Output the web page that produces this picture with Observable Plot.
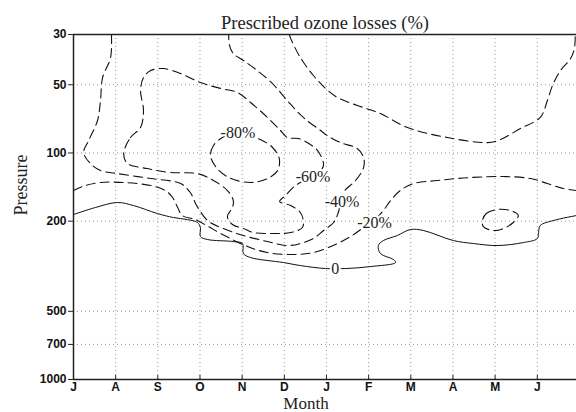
<!DOCTYPE html>
<html>
<head>
<meta charset="utf-8">
<script src="https://cdn.jsdelivr.net/npm/d3@7"></script>
<script src="https://cdn.jsdelivr.net/npm/@observablehq/plot@0.6"></script>
<style>
  html, body { margin: 0; padding: 0; background: white; }
</style>
</head>
<body>
<div id="chart"></div>
<script>
// Month axis (July .. June) and pressure ticks
const monthLabels = ["J","A","S","O","N","D","J","F","M","A","M","J"];
const monthTicks = [0,1,2,3,4,5,6,7,8,9,10,11];
const pressureTicks = [30,50,100,200,500,700,1000];
const pressureGrid = [50,100,200,500,700];

// Contour lines: [month index, pressure hPa]
const c80 = [[3.53,85.5],[3.32,92.7],[3.25,102.6],[3.37,114.8],[3.68,128.4],[4.20,135],[4.60,129.7],[4.84,119.6],[4.88,105.8],[4.72,94.6],[4.43,87.2],[4.08,82.9],[3.77,82.9]];

const c60 = [[1.19,100.6],[1.35,85.5],[1.59,77.2],[1.66,65.0],[1.59,53.0],[1.66,46.5],[1.83,43.3],[2.13,42.4],[2.54,44.6],[3.01,48.9],[3.49,51.9],[3.89,54.1],[4.20,59.9],[4.60,69.7],[4.91,79.6],[5.07,85.5],[5.34,86.4],[5.62,91.8],[5.79,97.6],[5.93,111.3],[5.90,117.2],[5.62,128.4],[5.26,139.3],[5.03,154.1],[4.89,163.8],[5.15,170.6],[5.38,183.2],[5.45,198.8],[5.43,213.4],[5.15,224.6],[4.74,226.8],[4.27,224.6],[4.03,215.6],[3.77,207],[3.65,190.8],[3.77,174.1],[3.79,162.2],[3.65,146.5],[3.32,132.3],[2.94,123.3],[2.30,122],[1.75,117.2],[1.28,111.3]];

const c40 = [[0.90,30],[0.88,37.9],[0.69,46.5],[0.64,58.7],[0.57,71.9],[0.36,88.1],[0.24,99.6],[0.40,111.3],[0.64,119.6],[1.04,123.3],[1.83,129.7],[2.54,136.5],[2.77,149.5],[2.92,170.6],[3.18,198.8],[3.49,213.4],[4.03,231.5],[4.60,246.1],[5.07,256.3],[5.38,251.1],[5.69,238.7],[5.93,220],[6.17,202.8],[6.28,183.2],[6.40,149.5],[6.69,132.3],[6.88,116],[6.88,104.7],[6.73,95.6],[6.33,90.0],[6.02,83.8],[5.86,79.6],[5.45,69.7],[5.07,58.7],[4.72,49.4],[4.36,43.3],[4.03,39.1],[3.79,36.4],[3.70,33.5],[3.68,30]];

const c20low = [[0,146.5],[0.28,139.3],[0.64,135],[1.19,135],[1.83,139.3],[2.18,146.5],[2.35,157.3],[2.47,174.1],[2.58,188.9],[2.89,196.8],[3.20,211.3],[3.49,226.8],[4.13,258.9],[4.60,275.2],[5.15,280.8],[5.69,275.2],[6.26,251.1],[6.57,233.9],[6.81,217.8],[7.16,196],[7.35,179.5],[7.52,162.2],[7.75,146.5],[8.06,136.5],[8.63,132.3],[9.41,128.4],[10.20,127.1],[10.84,129.7],[11.24,136.5],[11.62,143.6],[11.93,146.5]];

const c20top = [[5.12,30],[5.15,31.2],[5.38,37.9],[5.69,45.5],[5.98,51.9],[6.26,56.9],[6.73,61.7],[7.28,67.0],[7.92,77.2],[8.87,85.5],[9.82,90.0],[10.13,87.2],[10.60,78.0],[11.07,69.7],[11.24,58.7],[11.36,50.4],[11.55,43.3],[11.79,38.3],[11.88,34.6],[11.90,30]];

const c20may = [[9.70,198.8],[9.79,185.1],[10.05,177.7],[10.36,179.5],[10.55,188.9],[10.43,202.8],[10.20,215.6],[9.96,220],[9.72,211.3]];

const c0 = [[0,187],[0.52,174.1],[1.04,165.5],[1.42,170.6],[1.99,185.1],[2.37,192.8],[2.70,196.8],[2.94,202.8],[3.01,213.4],[3.01,233.9],[3.18,241.1],[3.79,246.1],[4.01,251.1],[4.03,278],[4.20,289.5],[4.98,304.6],[5.38,314.1],[5.98,323.8],[6.45,323.8],[7.04,317.4],[7.64,304.6],[7.59,295.5],[7.28,278],[7.23,256.3],[7.35,243.6],[7.68,231.5],[7.99,217.8],[8.30,220],[9.01,243.6],[9.49,251.1],[10.05,256.3],[10.67,248.6],[11.00,238.7],[11.03,224.6],[11.07,209.1],[11.38,198.8],[11.93,188.9]];

const labelTexts = ["-80%","-60%","-40%","-20%","0"];
const labelMonths = [3.90, 5.68, 6.37, 7.14, 6.21];
const labelPressures = [81.2, 127.1, 163.8, 203.9, 323.8];

const rows = (pts, id) => pts.map(([m, p]) => ({m, p, id}));
const openDashed = [...rows(c40, "c40"), ...rows(c20low, "c20low"), ...rows(c20top, "c20top")];
const closedDashed = [...rows(c80, "c80"), ...rows(c60, "c60"), ...rows(c20may, "c20may")];
const solid = rows(c0, "c0");
const labels = labelTexts.map((t, i) => ({t, m: labelMonths[i], p: labelPressures[i]}));

const serif = "'Liberation Serif', 'Times New Roman', serif";
const sans = "'Liberation Sans', Arial, sans-serif";
const dash = "9,5";
const tickLen = 5 / 42.17; // 5px outward tick, in month units

const chart = Plot.plot({
  width: 576,
  height: 412,
  marginLeft: 73,
  marginRight: 0,
  marginTop: 34,
  marginBottom: 33,
  style: {background: "white", color: "#111"},
  x: {domain: [0, 11.93]},
  y: {type: "log", domain: [30, 1000], reverse: true, axis: null},
  marks: [
    Plot.gridY(pressureGrid, {stroke: "#999", strokeOpacity: 1, strokeDasharray: "1,3"}),
    Plot.gridX(monthTicks.slice(1), {stroke: "#999", strokeOpacity: 1, strokeDasharray: "1,3"}),
    Plot.line(openDashed, {x: "m", y: "p", z: "id", stroke: "#111", strokeWidth: 1.1, strokeDasharray: dash, curve: "catmull-rom"}),
    Plot.line(closedDashed, {x: "m", y: "p", z: "id", stroke: "#111", strokeWidth: 1.1, strokeDasharray: dash, curve: "catmull-rom-closed"}),
    Plot.line(solid, {x: "m", y: "p", stroke: "#111", strokeWidth: 1, curve: "catmull-rom"}),
    Plot.text(labels, {x: "m", y: "p", text: "t", fontFamily: serif, fontSize: 16, fill: "#222", stroke: "white", strokeWidth: 4, paintOrder: "stroke"}),
    Plot.ruleX([0], {stroke: "#222", strokeWidth: 1.5}),
    Plot.ruleY([30], {stroke: "#222", strokeWidth: 1.5}),
    Plot.ruleY([1000], {stroke: "#222", strokeWidth: 1.5}),
    Plot.ruleX(monthTicks.slice(1), {y1: 1000, y2: 960, stroke: "#222", strokeWidth: 1}),
    // Pressure axis: ticks and labels
    Plot.ruleY(pressureTicks, {y: d => d, x1: -tickLen, x2: 0, stroke: "#222", strokeWidth: 1}),
    Plot.text(pressureTicks, {y: d => d, text: d => String(d), frameAnchor: "left", textAnchor: "end", dx: -7, fontSize: 12, fontWeight: "bold", fontFamily: sans, fill: "#111"}),
    Plot.axisX(monthTicks, {tickFormat: i => monthLabels[i], tickSize: 0, tickPadding: 3, fontSize: 12, fontWeight: "bold", fontFamily: sans, label: null}),
    Plot.text(["Prescribed ozone losses (%)"], {frameAnchor: "top", dy: -19, fontFamily: serif, fontSize: 18.5, fill: "#222"}),
    Plot.text(["Pressure"], {frameAnchor: "left", textAnchor: "middle", rotate: -90, dx: -52, dy: -22, fontFamily: serif, fontSize: 18, fill: "#222"}),
    Plot.text(["Month"], {frameAnchor: "bottom", dx: -19, dy: 29.5, lineAnchor: "bottom", fontFamily: serif, fontSize: 17, fill: "#222"})
  ]
});
document.getElementById("chart").appendChild(chart);
</script>
</body>
</html>
